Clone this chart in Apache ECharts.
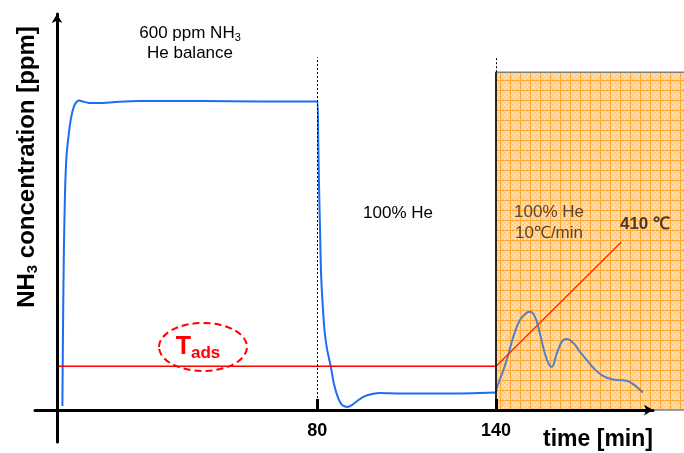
<!DOCTYPE html>
<html><head><meta charset="utf-8">
<script src="https://cdn.jsdelivr.net/npm/echarts@6/dist/echarts.min.js"></script>
<style>html,body{margin:0;padding:0;background:#fff}#c{width:684px;height:453px}</style>
</head><body><div id="c"></div>
<script>
// ---- data (time in min, NH3 in ppm) ----
const timeTicks = [80, 140];
const phaseBoundaries = [80, 140];
const adsorptionCurve = [[-5.6,8],[-5.4,155],[-5.1,311],[-4.7,427],[-4.2,495],[-3.5,534],[-2.7,567],[-1.7,590],[-0.7,599],[0.1,601],[1.3,599],[3.7,596],[7.0,596],[12.1,598],[20.4,600],[40.6,600],[60.8,599],[74.2,599],[79.6,599],[80.1,599],[80.3,524],[80.6,427],[80.9,350],[81.2,272],[81.7,214],[82.4,155],[83.3,117],[84.5,85],[85.6,50],[87.0,23],[88.3,10],[90.0,6],[91.7,10],[93.7,19],[96.0,27],[98.4,31],[101.1,33],[107.8,32],[124.6,32],[140,34]];
const tpdCurve = [[140,34],[140.2,42],[142.5,78],[144.1,107],[145.8,142],[148.0,175],[150.3,189],[151.4,191],[153.1,181],[154.7,149],[156.4,110],[157.6,91],[158.7,84],[160.4,110],[162.1,133],[163.7,138],[166.0,130],[168.2,113],[170.5,97],[173.3,78],[176.0,66],[178.9,60],[181.6,58],[183.9,57],[186.1,50],[187.8,42],[189.3,34]];
const tempHold = [[-7.5,85],[140,85]];
const tempRamp = [[140,85],[182,326]];
const heatingWindow = [140, 206.5];
const heatingTop = 656;
const boundaryTop = 685;

function makePattern(){
  const c = document.createElement('canvas');
  c.width = 10; c.height = 10;
  const g = c.getContext('2d');
  g.fillStyle = '#ffcd88'; g.fillRect(0,0,10,10);
  for (let y=0;y<10;y+=2) for (let x=0;x<10;x+=2) if (((x+y)/2)%2===0) { g.fillStyle='#ffdfae'; g.fillRect(x,y,2,2);} 
  g.fillStyle='#ffa733'; g.fillRect(0,0,10,1); g.fillRect(0,0,1,10);
  return c;
}

const FF = '"Liberation Sans", Arial, sans-serif';
const chart = echarts.init(document.getElementById('c'), null, {renderer:'canvas'});
chart.setOption({
  animation: false,
  grid: [
    {left:35, right:31, top:14, bottom:11, outerBoundsMode:'none', containLabel:false},
    {left:35, right:-10, top:14, bottom:11, outerBoundsMode:'none', containLabel:false}
  ],
  xAxis: [
    {type:'value', gridIndex:0, min:-14.8, max:192.7, z:10,
     axisLine:{onZero:true, lineStyle:{color:'#000', width:3}, symbol:['none','arrow'], symbolSize:[8,9]},
     axisTick:{show:true, inside:true, length:11, customValues: timeTicks, lineStyle:{color:'#000', width:3}},
     axisLabel:{show:true, customValues: timeTicks, margin:-20, color:'#000', fontFamily:FF, fontWeight:'bold', fontSize:18},
     splitLine:{show:false}},
    {type:'value', gridIndex:1, min:-14.8, max:206.5, show:false, splitLine:{show:false}}
  ],
  yAxis: [
    {type:'value', gridIndex:0, min:-62, max:769, offset:-22, z:10,
     axisLine:{show:true, onZero:false, lineStyle:{color:'#000', width:3}, symbol:['none','arrow'], symbolSize:[8,9]},
     axisTick:{show:false}, axisLabel:{show:false}, splitLine:{show:false}},
    {type:'value', gridIndex:1, min:-62, max:769, show:false, splitLine:{show:false}}
  ],
  series: [
    {type:'line', xAxisIndex:1, yAxisIndex:1, data:[[heatingWindow[0],0]], symbol:'none', lineStyle:{opacity:0}, z:1, silent:true,
     markArea:{silent:true, itemStyle:{color:{image:makePattern(), repeat:'repeat'}, borderColor:'#808080', borderWidth:1.5},
       data:[[{xAxis:heatingWindow[0], yAxis:0},{xAxis:heatingWindow[1], yAxis:heatingTop}]]}},
    {type:'line', data:adsorptionCurve, symbol:'none', smooth:0.2, z:3,
     lineStyle:{color:'#1a6ef5', width:2}, silent:true,
     markLine:{silent:true, symbol:['none','none'], label:{show:false},
       lineStyle:{color:'#000', width:1, type:[2,2]},
       data:[
         [{coord:[phaseBoundaries[0],0]},{coord:[phaseBoundaries[0],boundaryTop]}],
         [{coord:[phaseBoundaries[1],heatingTop]},{coord:[phaseBoundaries[1],boundaryTop]}],
         [{coord:[phaseBoundaries[1],0], lineStyle:{type:'solid', width:1.5, color:'#000'}},{coord:[phaseBoundaries[1],heatingTop]}]
       ]}},
    {type:'line', data:tpdCurve, symbol:'none', smooth:0.4, z:3, silent:true,
     lineStyle:{color:'#5580c2', width:2}},
    {type:'line', data:tempHold, symbol:'none', z:3, silent:true, lineStyle:{color:'#ff0000', width:1.5}},
    {type:'line', data:tempRamp, symbol:'none', z:3, silent:true, lineStyle:{color:'#ff3300', width:1.5}}
  ],
  graphic: [
    {type:'text', x:27, y:167, rotation:Math.PI/2, z:100, style:{
      text:'{a|NH}{b|3}{a| concentration [ppm]}', align:'center', verticalAlign:'middle',
      rich:{a:{fontFamily:FF, fontWeight:'bold', fontSize:24, fill:'#000'},
            b:{fontFamily:FF, fontWeight:'bold', fontSize:15, fill:'#000', padding:[12,0,0,0]}}}},
    {type:'text', x:598, y:440, z:100, style:{text:'time [min]', font:'bold 23px '+FF, fill:'#000', align:'center', verticalAlign:'middle'}},
    {type:'text', x:190, y:33, z:100, style:{
      text:'{a|600 ppm NH}{b|3}', align:'center', verticalAlign:'middle',
      rich:{a:{fontFamily:FF, fontSize:17, fill:'#000'}, b:{fontFamily:FF, fontSize:11, fill:'#000', padding:[10,0,0,0]}}}},
    {type:'text', x:190, y:53, z:100, style:{text:'He balance', font:'17px '+FF, fill:'#000', align:'center', verticalAlign:'middle'}},
    {type:'text', x:398, y:213, z:100, style:{text:'100% He', font:'17px '+FF, fill:'#000', align:'center', verticalAlign:'middle'}},
    {type:'text', x:549, y:212, z:100, style:{text:'100% He', font:'17px '+FF, fill:'#5a4632', align:'center', verticalAlign:'middle'}},
    {type:'text', x:549, y:233, z:100, style:{text:'10℃/min', font:'17px '+FF, fill:'#5a4632', align:'center', verticalAlign:'middle'}},
    {type:'text', x:645, y:224, z:100, style:{text:'410 ℃', font:'bold 17px '+FF, fill:'#4a3a28', align:'center', verticalAlign:'middle'}},
    {type:'ellipse', z:100, shape:{cx:203, cy:347, rx:44, ry:24}, style:{fill:null, stroke:'#ff0000', lineWidth:2, lineDash:[7,4]}},
    {type:'text', x:198, y:347, z:100, style:{
      text:'{t|T}{s|ads}', align:'center', verticalAlign:'middle',
      rich:{t:{fontFamily:FF, fontWeight:'bold', fontSize:25, fill:'#ff0000'}, s:{fontFamily:FF, fontWeight:'bold', fontSize:17, fill:'#ff0000', padding:[12,0,0,0]}}}}
  ]
});
</script></body></html>
